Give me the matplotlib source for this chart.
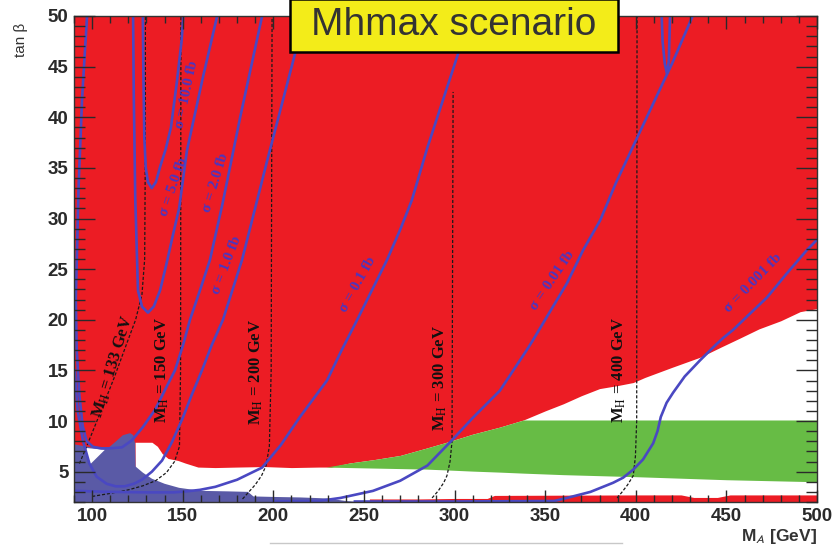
import matplotlib
matplotlib.use("Agg")
import matplotlib.pyplot as plt
from matplotlib.patches import Rectangle
from matplotlib.lines import Line2D
from matplotlib.ticker import MultipleLocator

plt.rcParams['font.family'] = ['Liberation Sans', 'DejaVu Sans']
plt.rcParams['mathtext.fontset'] = 'stix'

# ---------------- data ----------------
x_ticks = [100, 150, 200, 250, 300, 350, 400, 450, 500]
y_ticks = [5, 10, 15, 20, 25, 30, 35, 40, 45, 50]

# lower edge of the red (excluded) region
red_x = [123.7, 128, 133, 136, 138.6, 141.9, 147.4, 151.3, 158.4, 167.8,
         180, 195, 210, 225, 232, 242, 256, 270, 284, 297.5,
         310, 325, 338, 350, 360, 370, 380, 390, 398.6, 405,
         420, 435.5, 447, 457.6, 468, 480, 490.7, 500]
red_y = [7.9, 7.9, 7.9, 7.5, 6.8, 6.3, 6.1, 5.85, 5.45, 5.4,
         5.45, 5.5, 5.4, 5.45, 5.45, 5.85, 6.2, 6.6, 7.3, 8.0,
         8.7, 9.4, 10.1, 11.0, 11.7, 12.5, 13.2, 13.5, 13.8, 14.3,
         15.3, 16.3, 17.3, 18.2, 19.1, 19.9, 20.8, 21.1]

# green band
green_x = [229, 242, 256, 270, 284, 297.5, 310, 325, 338, 360, 400, 450, 500]
green_top = [5.45, 5.85, 6.2, 6.6, 7.3, 8.0, 8.7, 9.4, 10.1, 10.1, 10.1, 10.1, 10.1]
green_bottom = [5.45, 5.4, 5.35, 5.3, 5.25, 5.15, 5.05, 4.95, 4.85, 4.7, 4.5, 4.2, 4.0]

# thin red strip at the bottom
strip_x = [253, 280, 300, 318, 322, 400, 425, 432, 445, 452, 500]
strip_top = [2.3, 2.3, 2.35, 2.35, 2.65, 2.7, 2.7, 2.45, 2.45, 2.7, 2.7]

# blue region (outline)
blue_x = [90, 90, 96, 104, 108, 112.6, 117, 121, 122.7, 123.7, 124, 128, 133,
          140, 148, 160, 175, 186, 189, 200, 215, 230, 240, 248]
blue_y = [2.0, 7.7, 7.5, 7.3, 7.2, 7.9, 8.6, 8.8, 8.6, 7.8, 5.5, 4.9, 4.3,
          3.8, 3.4, 3.1, 3.05, 3.0, 2.55, 2.5, 2.45, 2.35, 2.1, 2.0]
hole_x = [96, 107, 98.8]
hole_y = [7.35, 7.15, 5.7]

# cross-section contours
sig10_x = [128.0, 128.3, 128.8, 129.6, 130.8, 132.9, 135.2, 137.5, 140.5, 143.5, 146.7, 149.4, 150.3]
sig10_y = [50, 44, 38, 35, 33.6, 33.0, 33.6, 35.1, 36.8, 39.0, 43.4, 47.6, 50]
sig5_x = [122.6, 123.0, 123.8, 125.3, 127.5, 130.8, 134.0, 137.5, 141.0, 144.5, 148.0, 152.3, 161.2, 169.0]
sig5_y = [50, 42, 32, 22.9, 21.3, 20.7, 21.3, 22.9, 25.5, 28.3, 31.0, 36.7, 44.0, 50]
sig2_x = [97.2, 94.5, 92.5, 91.0, 91.5, 93.0, 94.8, 97.0, 100.5, 105, 110, 116.5, 122, 128,
          134.7, 140, 145.7, 150, 154, 159.5, 165, 172, 181.7, 193.8]
sig2_y = [50, 42, 33, 22, 17, 12.5, 9.5, 8.0, 7.45, 7.3, 7.3, 7.4, 8.1, 9.4,
          11.1, 13.0, 15.0, 17.4, 20.0, 22.9, 25.9, 31.5, 40, 50]
sig1_x = [90.4, 92, 95, 98.5, 102.5, 108, 113, 118, 123, 127.5, 133, 138.6, 144, 150,
          155, 160.6, 166, 172.2, 182.7, 197, 212, 217.3]
sig1_y = [15, 11, 8, 5.8, 4.5, 3.8, 3.55, 3.55, 3.8, 4.2, 5.0, 6.1, 7.9, 10.3,
          12.6, 15.0, 17.5, 20.0, 25.9, 36, 46.3, 50]
sig01_x = [90, 110, 130, 145, 152, 159.5, 168, 180, 193.8, 204, 214.7, 229.6, 237.7,
           246, 262.7, 270, 276.4, 285, 302, 309]
sig01_y = [3.1, 3.0, 2.95, 2.95, 3.05, 3.2, 3.5, 4.2, 5.4, 7.6, 10.4, 14.0, 17.0,
           19.9, 25.9, 28.9, 31.8, 37, 46.3, 50]
sig001_x = [200, 225, 237, 255, 270, 285, 297.5, 310, 325, 339.8, 343.3, 362, 371,
            380.3, 389, 407.9, 420, 431.4]
sig001_y = [2.05, 2.1, 2.4, 3.1, 4.1, 5.6, 7.9, 10.3, 13.0, 17.0, 18.0, 23.6, 26.9,
            29.8, 33.5, 40.7, 45.3, 50]
sig0001_x = [245, 300, 355, 362, 375, 387.5, 393, 398.6, 404, 409.6, 412, 413.8, 417,
             420.6, 427, 435.5, 444, 448.2, 453.7, 463, 472.4, 483, 494.5, 500]
sig0001_y = [2.05, 2.05, 2.1, 2.4, 3.0, 3.9, 4.4, 5.2, 6.2, 7.8, 9.0, 10.4, 11.8,
             12.8, 14.4, 16.0, 17.5, 18.2, 19.0, 20.6, 22.2, 24.5, 26.9, 27.9]
loop_x = [414.3, 414.8, 416.0, 417.2, 418.2, 418.9]
loop_y = [50, 47.5, 45.3, 44.3, 45.5, 50]

# iso-mass lines of the heavy Higgs
mh133_x = [93, 97, 104, 112, 119, 124, 127.5, 129, 129.3, 129.4]
mh133_y = [5.8, 7.5, 10.6, 14.2, 17.6, 20, 22.5, 26, 35, 50]
mh150_x = [100, 110, 120, 128, 135, 141, 145.5, 148.2, 148.8, 149.0]
mh150_y = [2.55, 2.85, 3.2, 3.6, 4.1, 4.9, 6.0, 7.5, 15, 50]
mh200_x = [183, 186, 190, 193.5, 196, 197.8, 198.8, 199.3]
mh200_y = [2.3, 2.9, 3.7, 4.6, 5.6, 7.5, 15, 50]
mh300_x = [287.6, 291, 294, 295.8, 297.5, 298.6, 299.2]
mh300_y = [2.4, 3.1, 3.9, 4.6, 6.0, 8.0, 42.5]
mh400_x = [389.7, 392.5, 395.5, 398.6, 399.8, 400.5, 400.7]
mh400_y = [2.4, 3.0, 3.7, 4.6, 6.5, 10, 50]

sig_labels = ["σ = 10.0 fb", "σ = 5.0 fb", "σ = 2.0 fb", "σ = 1.0 fb",
              "σ = 0.1 fb", "σ = 0.01 fb", "σ = 0.001 fb"]
sig_label_x = [152.4, 145.2, 168.4, 174.3, 246.5, 353.7, 464.8]
sig_label_y = [42.2, 33.1, 33.5, 25.4, 23.5, 23.9, 23.6]
sig_label_rot = [78, 71, 73, 69, 61, 56, 46]

mh_labels = [r"M$_{\mathrm{H}}$ = 133 GeV", r"M$_{\mathrm{H}}$ = 150 GeV",
             r"M$_{\mathrm{H}}$ = 200 GeV", r"M$_{\mathrm{H}}$ = 300 GeV",
             r"M$_{\mathrm{H}}$ = 400 GeV"]
mh_label_x = [111.5, 138.6, 190.4, 292.0, 390.8]
mh_label_y = [15.4, 15.0, 14.8, 14.3, 15.0]
mh_label_rot = [73, 90, 90, 90, 90]

title = "Mhmax scenario"
x_label = r"M$_{\mathsf{A}}$ [GeV]"
y_label = "tan β"

# ---------------- styles ----------------
RED = '#ec1c24'
GREEN = '#67bc45'
BLUE = '#5a5aa6'
LINE = '#4a48c2'
LABEL = '#4a36c0'
YELLOW = '#f3ec19'

W, H = 835, 545
fig = plt.figure(figsize=(W / 100, H / 100), dpi=100)
ax = fig.add_axes([74 / W, 1 - 502 / H, (817 - 74) / W, (502 - 16) / H])
ax.set_xlim(90, 500)
ax.set_ylim(2, 50)
ax.set_facecolor(RED)

ax.fill_between(red_x, 2, red_y, color='white', lw=0, zorder=1)
ax.fill_between(green_x, green_bottom, green_top, color=GREEN, lw=0, zorder=2)
ax.fill_between(strip_x, 2, strip_top, color=RED, lw=0, zorder=2)
ax.fill(blue_x, blue_y, color=BLUE, lw=0, zorder=3)
ax.fill(hole_x, hole_y, color='white', lw=0, zorder=3.5)

for xs, ys in [(mh133_x, mh133_y), (mh150_x, mh150_y), (mh200_x, mh200_y),
               (mh300_x, mh300_y), (mh400_x, mh400_y)]:
    ax.plot(xs, ys, color='#1a1a1a', lw=0.9, ls=(0, (2.5, 1.5)), zorder=4)

for xs, ys in [(sig10_x, sig10_y), (sig5_x, sig5_y), (sig2_x, sig2_y),
               (sig1_x, sig1_y), (sig01_x, sig01_y), (sig001_x, sig001_y),
               (sig0001_x, sig0001_y), (loop_x, loop_y)]:
    ax.plot(xs, ys, color=LINE, lw=1.9, zorder=5, solid_joinstyle='round')

for t, x, y, r in zip(sig_labels, sig_label_x, sig_label_y, sig_label_rot):
    ax.text(x, y, t, rotation=r, rotation_mode='anchor', ha='center', va='center',
            color=LABEL, fontsize=11, family=['Liberation Serif', 'DejaVu Serif'],
            fontweight='bold', zorder=6)
for t, x, y, r in zip(mh_labels, mh_label_x, mh_label_y, mh_label_rot):
    ax.text(x, y, t, rotation=r, rotation_mode='anchor', ha='center', va='center',
            color='#111111', fontsize=12, family=['Liberation Serif', 'DejaVu Serif'],
            fontweight='bold', zorder=6)

ax.set_xticks(x_ticks)
ax.set_xticklabels([str(v) for v in x_ticks])
ax.set_yticks(y_ticks)
ax.set_yticklabels([str(v) for v in y_ticks])
ax.xaxis.set_minor_locator(MultipleLocator(10))
ax.yaxis.set_minor_locator(MultipleLocator(1))
ax.tick_params(which='both', direction='in', top=True, right=True, color='#2a2a2a',
               width=1, labelsize=13.5, labelcolor='#2a2a2a', pad=4)
ax.tick_params(axis='x', which='major', length=9)
ax.tick_params(axis='x', which='minor', length=5)
ax.tick_params(axis='y', which='major', length=15)
ax.tick_params(axis='y', which='minor', length=8)
for lab in ax.get_xticklabels() + ax.get_yticklabels():
    lab.set_fontweight('bold')
ax.xaxis.set_zorder(10)
ax.yaxis.set_zorder(10)
for s in ax.spines.values():
    s.set_color('#333333')
    s.set_linewidth(1.0)
    s.set_zorder(10)

fig.text(21 / W, 1 - 40 / H, y_label, rotation=90, ha='center', va='center',
         fontsize=11, color='#333333')
fig.text(817 / W, 1 - 541 / H, x_label, ha='right', va='baseline',
         fontsize=12.5, fontweight='bold', color='#333333')

box = Rectangle((290 / W, 1 - 52 / H), (618 - 290) / W, 53 / H,
                transform=fig.transFigure, facecolor=YELLOW, edgecolor='black',
                lw=1.8, zorder=20)
fig.add_artist(box)
fig.text(454 / W, 1 - 35 / H, title, ha='center', va='baseline', fontsize=28,
         color='#333333', zorder=21)
fig.add_artist(Line2D([270 / W, 622 / W], [1 - 543 / H] * 2, color='#c8c8c8', lw=1,
                      transform=fig.transFigure))

fig.savefig('out.png', dpi=100)
